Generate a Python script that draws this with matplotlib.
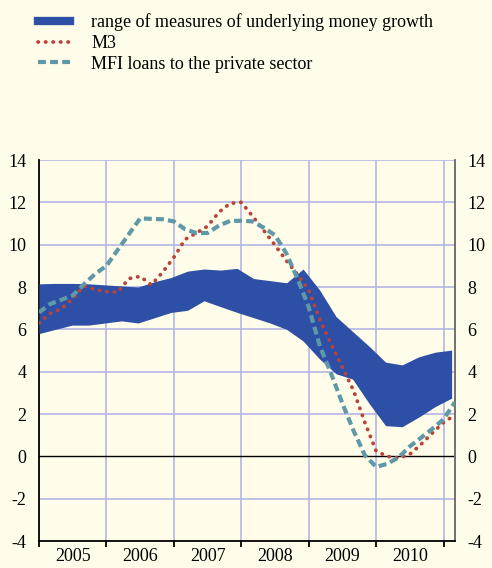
import numpy as np
import matplotlib
matplotlib.use("Agg")
import matplotlib.pyplot as plt
from matplotlib.lines import Line2D

# quarterly band of underlying money growth measures (annual % changes)
band_upper = [8.15, 8.17, 8.17, 8.15, 8.10, 8.05, 8.00, 8.25, 8.45, 8.75, 8.85, 8.80, 8.88,
              8.40, 8.30, 8.20, 8.85, 7.86, 6.60, 5.90, 5.20, 4.45, 4.32, 4.70, 4.92, 5.02]
band_lower = [5.80, 6.00, 6.20, 6.20, 6.30, 6.40, 6.30, 6.55, 6.80, 6.90, 7.35, 7.07, 6.80,
              6.55, 6.30, 6.00, 5.45, 4.60, 3.90, 3.65, 2.50, 1.45, 1.40, 1.85, 2.35, 2.75]

# bimonthly series, Jan 2005 - Mar 2011
m3 = [6.3, 6.75, 6.98, 7.45, 8.05, 7.88, 7.78, 7.75, 8.4, 8.5, 8.1, 8.7, 9.4, 10.25,
      10.55, 10.87, 11.53, 11.95, 12.0, 11.35, 10.67, 9.98, 9.25, 8.6, 7.86, 6.45,
      5.3, 4.2, 3.1, 1.6, 0.25, 0.0, -0.09, 0.1, 0.57, 1.1, 1.6, 1.95]
loans = [6.8, 7.2, 7.4, 7.6, 8.13, 8.62, 9.0, 9.75, 10.5, 11.24, 11.22, 11.2, 11.1, 10.73,
         10.55, 10.55, 10.9, 11.12, 11.13, 11.1, 10.8, 10.45, 9.6, 8.4, 7.05, 5.2,
         3.9, 2.5, 1.2, 0.05, -0.5, -0.35, -0.05, 0.47, 0.88, 1.3, 1.75, 2.55]

years = [2005, 2006, 2007, 2008, 2009, 2010]

band_x = np.linspace(2005.0, 2011.12, len(band_upper))
line_x = 2005.0 + np.arange(len(m3)) / 6.0

bg = "#fffde9"
blue = "#2d4fa6"
red = "#b9433a"
teal = "#5f98a6"
gridc = "#b3b7e6"

plt.rcParams["font.family"] = ["Liberation Serif", "DejaVu Serif"]

fig = plt.figure(figsize=(4.92, 5.68), dpi=100, facecolor=bg)
ax = fig.add_axes([0.0793, 0.0475, 0.8455, 0.6708], facecolor=bg)

ax.fill_between(band_x, band_lower, band_upper, color=blue, lw=0, zorder=3)
ax.plot(line_x, m3, color=red, lw=2.7, dashes=(0.1, 1.9), dash_capstyle="round", zorder=4)
ax.plot(line_x, loans, color=teal, lw=3.0, dashes=(1.9, 1.0), zorder=5)

ax.axhline(0, color="black", lw=1.0, zorder=2)

ax.set_xlim(2005.0, 2011.17)
ax.set_ylim(-4, 14)

for y in range(-2, 15, 2):
    if y != 0:
        ax.axhline(y, color=gridc, lw=1.2, zorder=1)
for yr in years[1:] + [2011]:
    ax.axvline(yr, color=gridc, lw=1.2, zorder=1)

ax.set_yticks(range(-4, 15, 2))
ax.set_yticklabels([str(v) for v in range(-4, 15, 2)])
ax.tick_params(axis="y", length=0, labelsize=13, pad=9, right=True, labelright=True)

ax.set_xticks(years + [2011])
ax.set_xticklabels([])
ax.set_xticks([y + 0.5 for y in years], minor=True)
ax.set_xticklabels([str(y) for y in years], minor=True)
ax.tick_params(axis="x", which="major", length=4, width=1.3, direction="out", color="black")
ax.tick_params(axis="x", which="minor", length=0, labelsize=13, pad=5)

ax.spines["top"].set_visible(False)
ax.spines["left"].set_color("black")
ax.spines["left"].set_linewidth(1.3)
ax.spines["bottom"].set_color("black")
ax.spines["bottom"].set_linewidth(1.3)
ax.spines["right"].set_color("#666666")
ax.spines["right"].set_linewidth(1.3)

handles = [
    Line2D([], [], color=blue, lw=6),
    Line2D([], [], color=red, lw=2.7, dashes=(0.1, 1.9), dash_capstyle="round"),
    Line2D([], [], color=teal, lw=3.0, dashes=(1.9, 1.0)),
]
labels = ["range of measures of underlying money growth", "M3",
          "MFI loans to the private sector"]
fig.legend(handles, labels, loc="upper left", bbox_to_anchor=(0.063, 0.989),
           frameon=False, fontsize=13, handlelength=1.75, handletextpad=1.2,
           labelspacing=0.2, borderaxespad=0)

fig.savefig("out.png", dpi=100, facecolor=bg)
